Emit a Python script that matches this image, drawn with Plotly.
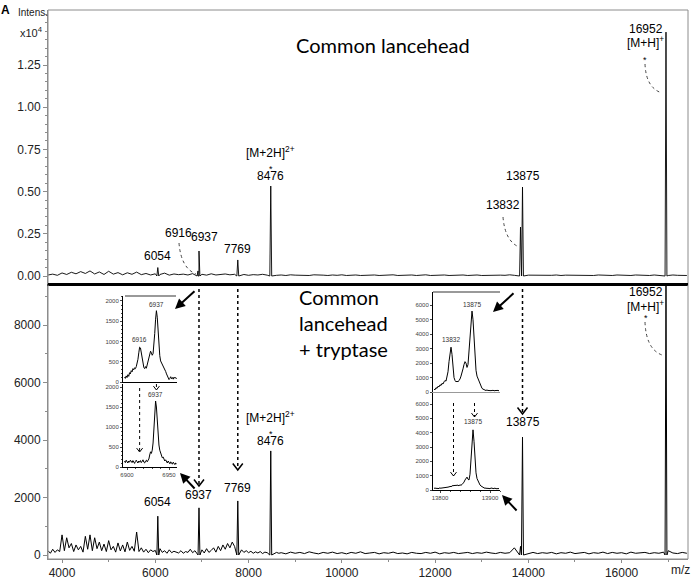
import plotly.graph_objects as go

W, H = 694, 583
FONT = "Liberation Sans, Arial, sans-serif"

# ---------------- data ----------------
TOP_NOISE_MZ = list(range(3700, 17401, 100))
TOP_NOISE = [60, 110, 40, 180, 90, 220, 130, 260, 150, 300,
             120, 240, 90, 280, 110, 200, 70, 190, 100, 230,
             80, 150, 60, 130, 90, 170, 50, 120, 80, 110,
             60, 140, 70, 100, 50, 130, 60, 90, 120, 70,
             100, 60, 90, 40, 80, 60, 100, 50, 70, 40,
             60, 30, 70, 50, 40, 60, 30, 70, 40, 50,
             30, 60, 40, 70, 30, 50, 60, 30, 50, 40,
             60, 30, 50, 40, 70, 30, 50, 40, 60, 30,
             50, 70, 30, 50, 40, 60, 30, 50, 40, 60,
             30, 50, 60, 30, 40, 60, 30, 50, 40, 70,
             40, 60, 30, 50, 40, 60, 30, 50, 40, 60,
             30, 50, 40, 60, 30, 50, 40, 30, 60, 40,
             50, 30, 60, 40, 50, 30, 60, 40, 50, 30,
             60, 40, 50, 30, 60, 40, 50, 30]

BOT_NOISE_MZ = list(range(3700, 8651, 50)) + list(range(8700, 17401, 100))
BOT_NOISE = [150, 60, 200, 90, 180, 120, 700, 150, 600, 250,
             400, 120, 350, 180, 300, 100, 650, 200, 700, 150,
             600, 220, 450, 150, 380, 120, 500, 180, 300, 100,
             420, 140, 350, 110, 450, 160, 300, 130, 800, 120,
             250, 100, 200, 80, 180, 120, 160, 70, 220, 90,
             150, 60, 180, 80, 130, 100, 70, 150, 60, 120,
             90, 200, 80, 150, 60, 130, 180, 70, 220, 90,
             160, 250, 100, 300, 150, 350, 200, 400, 250, 450,
             300, 200, 120, 180, 90, 150, 80, 130, 60, 110,
             70, 120, 50, 100, 80, 60, 110, 40, 90, 60,
             80, 40, 100, 60, 90, 50, 110, 70, 40, 90,
             60, 100, 50, 80, 40, 90, 60, 110, 50, 70,
             90, 40, 80, 60, 100, 50, 70, 40, 90, 60,
             50, 90, 60, 100, 40, 80, 60, 90, 50, 70,
             90, 50, 80, 60, 100, 70, 50, 90, 60, 80,
             250, 350, 120, 60, 90, 50, 80, 60, 90, 40,
             80, 60, 100, 50, 70, 90, 40, 80, 60, 100,
             50, 90, 60, 80, 40, 100, 60, 70, 90, 50,
             80, 60, 100, 150, 70, 50, 90, 60]

TOP_PEAK_MZ = [6054, 6916, 6937, 7769, 8476, 13832, 13875, 16952]
TOP_PEAK_INT = [500, 300, 1480, 950, 5330, 2900, 5270, 14450]
BOT_PEAK_MZ = [6054, 6937, 7769, 8476, 13832, 13875, 16952]
BOT_PEAK_INT = [1350, 1640, 1880, 3620, 300, 4100, 9600]

# inset 1: m/z 6897-6959 (1 Da steps)
IN1_MZ = list(range(6897, 6960))
IN1_NATIVE = [120, 90, 150, 110, 180, 140, 230, 200, 280, 250, 330, 300, 350, 330, 380, 450,
              560, 720, 860, 840, 700, 520, 420, 360, 330, 380, 340, 420, 500, 600, 700, 760,
              720, 660, 700, 900, 1200, 1550, 1760, 1600, 1250, 900, 650, 520, 480, 450, 420,
              380, 320, 260, 200, 160, 100, 60, 90, 130, 80, 110, 70, 120, 90, 110, 80]
IN1_TRYP = [150, 110, 170, 130, 100, 150, 120, 170, 140, 110, 160, 120, 90, 140, 170, 130,
            100, 150, 120, 160, 110, 140, 180, 120, 100, 150, 170, 130, 160, 200, 300, 380,
            340, 420, 600, 950, 1400, 1650, 1500, 1150, 800, 550, 420, 360, 280, 230, 250,
            200, 150, 180, 130, 100, 150, 110, 80, 130, 100, 70, 120, 90, 60, 100, 80]

# inset 2: m/z 13788-13918 (2 Da steps)
IN2_MZ = list(range(13788, 13919, 2))
IN2_NATIVE = [200, 150, 300, 250, 400, 350, 500, 450, 600, 550, 700, 800, 750, 1000, 1400,
              2100, 2800, 3100, 2600, 1700, 1000, 800, 700, 750, 700, 800, 900, 1100, 1300,
              1600, 1900, 2100, 2000, 1700, 1900, 2800, 4000, 5000, 5600, 5000, 3600, 2300,
              1500, 1100, 900, 700, 500, 350, 250, 200, 150, 120, 100, 150, 90, 120, 80, 110,
              90, 130, 80, 100, 120, 90, 110, 80]
IN2_TRYP = [100, 150, 100, 130, 90, 120, 150, 110, 160, 130, 180, 150, 200, 170, 220, 200,
            260, 230, 280, 320, 290, 340, 300, 350, 320, 300, 360, 330, 380, 450, 550, 700,
            850, 900, 750, 700, 1100, 2200, 3600, 4200, 3400, 2000, 1200, 800, 600, 450, 350,
            280, 220, 180, 150, 120, 140, 100, 130, 90, 120, 100, 140, 90, 110, 130, 90, 110,
            80, 100]

MAIN_TICKS = [4000, 6000, 8000, 10000, 12000, 14000, 16000]
TOP_TICKS = [0, 2500, 5000, 7500, 10000, 12500]
TOP_TICKTEXT = ["0.00", "0.25", "0.50", "0.75", "1.00", "1.25"]
BOT_TICKS = [0, 2000, 4000, 6000, 8000]

# ---------------- geometry ----------------
X_RANGE = [3699, 17424]
X_PX = (48, 688)
BOT_PX = 559
TOP_RANGE = [-474, 15758]
BOT_RANGE = [-139, 9426]
IN1_XR = [6895.2, 6959.5]
IN2_XR = [13786, 13920]
PEAK_HW = 20


def P(xp, yp):
    return xp / W, 1 - yp / H


def dom_x(a, b):
    return [a / W, b / W]


def dom_y(top, bottom):
    return [1 - bottom / H, 1 - top / H]


def lin(v, rng, px):
    return px[0] + (v - rng[0]) / (rng[1] - rng[0]) * (px[1] - px[0])


def spectrum(noise_mz, noise, pk_mz, pk_int):
    pts = [(m, v) for m, v in zip(noise_mz, noise)
           if all(abs(m - p) > 2 * PEAK_HW for p in pk_mz)]
    for p, h in zip(pk_mz, pk_int):
        pts += [(p - PEAK_HW, 0), (p, h), (p + PEAK_HW, 0)]
    pts.sort()
    return [a for a, _ in pts], [b for _, b in pts]


fig = go.Figure()
line = dict(color="black", width=1)
tx, ty = spectrum(TOP_NOISE_MZ, TOP_NOISE, TOP_PEAK_MZ, TOP_PEAK_INT)
bx, by = spectrum(BOT_NOISE_MZ, BOT_NOISE, BOT_PEAK_MZ, BOT_PEAK_INT)
fig.add_trace(go.Scatter(x=bx, y=by, mode="lines", line=line, xaxis="x", yaxis="y"))
fig.add_trace(go.Scatter(x=tx, y=ty, mode="lines", line=dict(color="black", width=0.9),
                         xaxis="x2", yaxis="y2"))
fig.add_trace(go.Scatter(x=IN1_MZ, y=IN1_NATIVE, mode="lines", line=line, xaxis="x3", yaxis="y3"))
fig.add_trace(go.Scatter(x=IN1_MZ, y=IN1_TRYP, mode="lines", line=line, xaxis="x4", yaxis="y4"))
fig.add_trace(go.Scatter(x=IN2_MZ, y=IN2_NATIVE, mode="lines", line=line, xaxis="x5", yaxis="y5"))
fig.add_trace(go.Scatter(x=IN2_MZ, y=IN2_TRYP, mode="lines", line=line, xaxis="x6", yaxis="y6"))

AX_GRAY = "#8c8c8c"
tickfont = dict(family=FONT, size=12, color="#222")
small = dict(family=FONT, size=6, color="#444")
common = dict(showgrid=False, zeroline=False, automargin=False)

layout_axes = dict(
    xaxis=dict(domain=dom_x(*X_PX), range=X_RANGE, anchor="y", tickvals=MAIN_TICKS,
               tickformat="d", ticks="outside", ticklen=3, tickcolor=AX_GRAY, showline=True,
               linecolor=AX_GRAY, tickfont=tickfont,
               minor=dict(dtick=1000, tick0=4000, ticks="outside", ticklen=2,
                          tickcolor=AX_GRAY), **common),
    xaxis2=dict(domain=dom_x(*X_PX), range=X_RANGE, anchor="y2", matches="x",
                showticklabels=False, ticks="", showline=True, linecolor="black", linewidth=2,
                **common),
    yaxis=dict(domain=dom_y(284, BOT_PX), range=BOT_RANGE, anchor="x", tickvals=BOT_TICKS,
               ticks="outside", ticklen=4, tickcolor=AX_GRAY, showline=True, linecolor=AX_GRAY,
               tickfont=tickfont, minor=dict(dtick=1000, ticks="outside", ticklen=2,
                                              tickcolor=AX_GRAY), **common),
    yaxis2=dict(domain=dom_y(10, 284), range=TOP_RANGE, anchor="x2", tickvals=TOP_TICKS,
                ticktext=TOP_TICKTEXT, ticks="outside", ticklen=4, tickcolor=AX_GRAY,
                showline=True, linecolor=AX_GRAY, tickfont=tickfont,
                minor=dict(dtick=500, ticks="outside", ticklen=2, tickcolor=AX_GRAY), **common),
    # inset 1
    xaxis3=dict(domain=dom_x(123, 177), range=IN1_XR, anchor="y3", showticklabels=False,
                showline=True, linecolor="black", linewidth=1, ticks="", **common),
    yaxis3=dict(domain=dom_y(296, 382), range=[0, 2123], anchor="x3",
                tickvals=[0, 500, 1000, 1500, 2000], ticks="outside", ticklen=2,
                tickfont=small, showline=True, linecolor="black", linewidth=1,
                minor=dict(dtick=100, ticks="outside", ticklen=1), **common),
    xaxis4=dict(domain=dom_x(123, 177), range=IN1_XR, anchor="y4", tickvals=[6900, 6950],
                tickformat="d", ticks="outside", ticklen=2, tickfont=small, showline=True,
                linecolor="black", linewidth=1,
                minor=dict(dtick=10, ticks="outside", ticklen=1), **common),
    yaxis4=dict(domain=dom_y(384, 467), range=[0, 2075], anchor="x4",
                tickvals=[0, 500, 1000, 1500, 2000], ticks="outside", ticklen=2,
                tickfont=small, showline=True, linecolor="black", linewidth=1,
                minor=dict(dtick=100, ticks="outside", ticklen=1), **common),
    # inset 2
    xaxis5=dict(domain=dom_x(433, 500), range=IN2_XR, anchor="y5", showticklabels=False,
                showline=True, linecolor="#999", linewidth=3, ticks="", **common),
    yaxis5=dict(domain=dom_y(292, 392), range=[0, 6920], anchor="x5",
                tickvals=[0, 1000, 2000, 3000, 4000, 5000, 6000], ticks="outside", ticklen=2,
                tickfont=small, showline=True, linecolor="black", linewidth=1, **common),
    xaxis6=dict(domain=dom_x(433, 500), range=IN2_XR, anchor="y6", tickvals=[13800, 13900],
                tickformat="d", ticks="outside", ticklen=2, tickfont=small, showline=True,
                linecolor="black", linewidth=1,
                minor=dict(dtick=20, ticks="outside", ticklen=1), **common),
    yaxis6=dict(domain=dom_y(393, 490), range=[0, 6770], anchor="x6",
                tickvals=[0, 1000, 2000, 3000, 4000, 5000, 6000], ticks="outside", ticklen=2,
                tickfont=small, showline=True, linecolor="black", linewidth=1, **common),
)

# ---------------- annotations ----------------
ann = []


def label(text, x, y, xref, yref, xshift=0, yshift=0, size=12, yanchor="bottom", color="black"):
    ann.append(dict(text=text, x=x, y=y, xref=xref, yref=yref, xshift=xshift, yshift=yshift,
                    showarrow=False, xanchor="center", yanchor=yanchor,
                    font=dict(family=FONT, size=size, color=color)))


def tpk(i):
    return TOP_PEAK_MZ[i], TOP_PEAK_INT[i]


def bpk(i):
    return BOT_PEAK_MZ[i], BOT_PEAK_INT[i]


# top panel peaks
label("6054", *tpk(0), "x2", "y2", yshift=3)
label("6916", *tpk(1), "x2", "y2", xshift=-20, yshift=29)
label("6937", *tpk(2), "x2", "y2", xshift=6, yshift=5)
label("7769", *tpk(3), "x2", "y2", yshift=2)
label("8476", *tpk(4), "x2", "y2", yshift=1)
label("*", *tpk(4), "x2", "y2", yshift=10, size=9)
label("[M+2H]<sup>2+</sup>", *tpk(4), "x2", "y2", yshift=24)
label("13875", *tpk(6), "x2", "y2", yshift=2)
label("13832", *tpk(5), "x2", "y2", xshift=-18, yshift=13)
label("16952", *tpk(7), "x2", "y2", xshift=-20, yshift=-6)
label("[M+H]<sup>+</sup>", *tpk(7), "x2", "y2", xshift=-20, yshift=-20)
label("*", *tpk(7), "x2", "y2", xshift=-21, yshift=-35, size=9)

# bottom panel peaks
label("6054", *bpk(0), "x", "y", yshift=5)
label("6937", *bpk(1), "x", "y", yshift=4)
label("7769", *bpk(2), "x", "y", yshift=4)
label("8476", *bpk(3), "x", "y", yshift=1)
label("*", *bpk(3), "x", "y", yshift=10, size=9)
label("[M+2H]<sup>2+</sup>", *bpk(3), "x", "y", yshift=24)
label("13875", *bpk(5), "x", "y", yshift=6)
label("16952", BOT_PEAK_MZ[6], BOT_RANGE[1], "x", "y", xshift=-20, yshift=1, yanchor="top")
label("[M+H]<sup>+</sup>", BOT_PEAK_MZ[6], BOT_RANGE[1], "x", "y", xshift=-20, yshift=-12,
      yanchor="top")
label("*", BOT_PEAK_MZ[6], BOT_RANGE[1], "x", "y", xshift=-20, yshift=-27, yanchor="top", size=9)

# inset labels
INSET_TXT = "#333"
label("6937", 6935, max(IN1_NATIVE), "x3", "y3", yshift=1, size=6.5, color=INSET_TXT)
label("6916", 6915, 860, "x3", "y3", yshift=2, size=6.5, color=INSET_TXT)
label("6937", 6934, max(IN1_TRYP), "x4", "y4", yshift=1, size=6.5, color=INSET_TXT)
label("13875", 13864, max(IN2_NATIVE), "x5", "y5", yshift=1, size=6.5, color=INSET_TXT)
label("13832", 13822, 3100, "x5", "y5", yshift=2, size=6.5, color=INSET_TXT)
label("13875", 13866, max(IN2_TRYP), "x6", "y6", yshift=3, size=6.5, color=INSET_TXT)

# free texts


def text(t, xp, yp, size, family=FONT, xanchor="center", yanchor="middle", align="center",
         color="black"):
    x, y = P(xp, yp)
    ann.append(dict(text=t, x=x, y=y, xref="paper", yref="paper", showarrow=False,
                    xanchor=xanchor, yanchor=yanchor, align=align,
                    font=dict(family=family, size=size, color=color)))


text("<b>A</b>", 5, 10, 12)
text("Intens.", 33, 12, 10, color="#222")
text("x10<sup>4</sup>", 32, 32, 11, color="#222")
text("m/z", 680, 570, 12, color="#222")
text("Common lancehead", 383, 45, 20, family="Lato, Open Sans, sans-serif")
text("Common<br>lancehead<br>+ tryptase", 297, 323, 20, family="Lato, Open Sans, sans-serif",
     xanchor="left", align="left")

# big solid arrows (head, tail in px)
for head, tail in [((175, 309), (196, 290)), ((180, 473), (196, 490)),
                   ((493, 312), (515, 292)), ((502, 495), (518, 512))]:
    x, y = P(*head)
    ann.append(dict(x=x, y=y, xref="paper", yref="paper", text="", showarrow=True,
                    ax=tail[0] - head[0], ay=tail[1] - head[1], arrowhead=2, arrowsize=1,
                    arrowwidth=2, arrowcolor="black"))

# ---------------- shapes ----------------
shapes = []
x0, y0 = P(48, BOT_PX)
x1, y1 = P(688, 10)
shapes.append(dict(type="rect", xref="paper", yref="paper", x0=x0, y0=y0, x1=x1, y1=y1,
                   line=dict(color=AX_GRAY, width=1)))
a, b = P(48, 284)
c, d = P(688, 284)
shapes.append(dict(type="line", xref="paper", yref="paper", x0=a, y0=b, x1=c, y1=d,
                   line=dict(color="black", width=2)))


def pline(p0, p1, color="black", width=1, dash=None):
    a, b = P(*p0)
    c, d = P(*p1)
    shapes.append(dict(type="line", xref="paper", yref="paper", x0=a, y0=b, x1=c, y1=d,
                       line=dict(color=color, width=width, dash=dash)))


def down_arrow(xp, ytop, ybot, s=5, width=1.5):
    pline((xp, ytop), (xp, ybot), width=width, dash="dot")
    pts = [P(xp - s, ybot - s * 1.3), P(xp, ybot), P(xp + s, ybot - s * 1.3)]
    path = "M {},{} L {},{} L {},{}".format(*[v for p in pts for v in p])
    shapes.append(dict(type="path", xref="paper", yref="paper", path=path,
                       line=dict(color="black", width=width)))


def curve(p0, pc, p1):
    pts = [P(*p0), P(*pc), P(*p1)]
    path = "M {},{} Q {},{} {},{}".format(*[v for p in pts for v in p])
    shapes.append(dict(type="path", xref="paper", yref="paper", path=path,
                       line=dict(color="#444", width=1, dash="dot")))


down_arrow(lin(6937, X_RANGE, X_PX), 289, 486)
down_arrow(lin(7769, X_RANGE, X_PX), 289, 470)
down_arrow(lin(13875, X_RANGE, X_PX), 289, 414)
down_arrow(lin(6915, IN1_XR, (123, 177)), 388, 452, s=3, width=1)
down_arrow(lin(6935, IN1_XR, (123, 177)), 384, 390, s=3, width=1)
down_arrow(lin(13827, IN2_XR, (433, 500)), 403, 476, s=3, width=1)
down_arrow(lin(13869, IN2_XR, (433, 500)), 403, 417, s=3, width=1)

pline((125, 296), (176, 296), color="#999", width=2)
pline((433, 292), (500, 292), color="#999", width=2)

curve((179, 243), (181, 268), (196, 274))
curve((503, 217), (505, 241), (519, 247))
curve((645, 64), (646, 88), (662, 93))
curve((645, 322), (646, 349), (662, 355))

fig.update_layout(width=W, height=H, margin=dict(l=0, r=0, t=0, b=0), autosize=False,
                  paper_bgcolor="white", plot_bgcolor="white", showlegend=False,
                  annotations=ann, shapes=shapes, **layout_axes)
fig.write_html("out.html", config={"displayModeBar": False},
               post_script="document.body.style.margin='0';"
                           "document.body.style.overflow='hidden';")
